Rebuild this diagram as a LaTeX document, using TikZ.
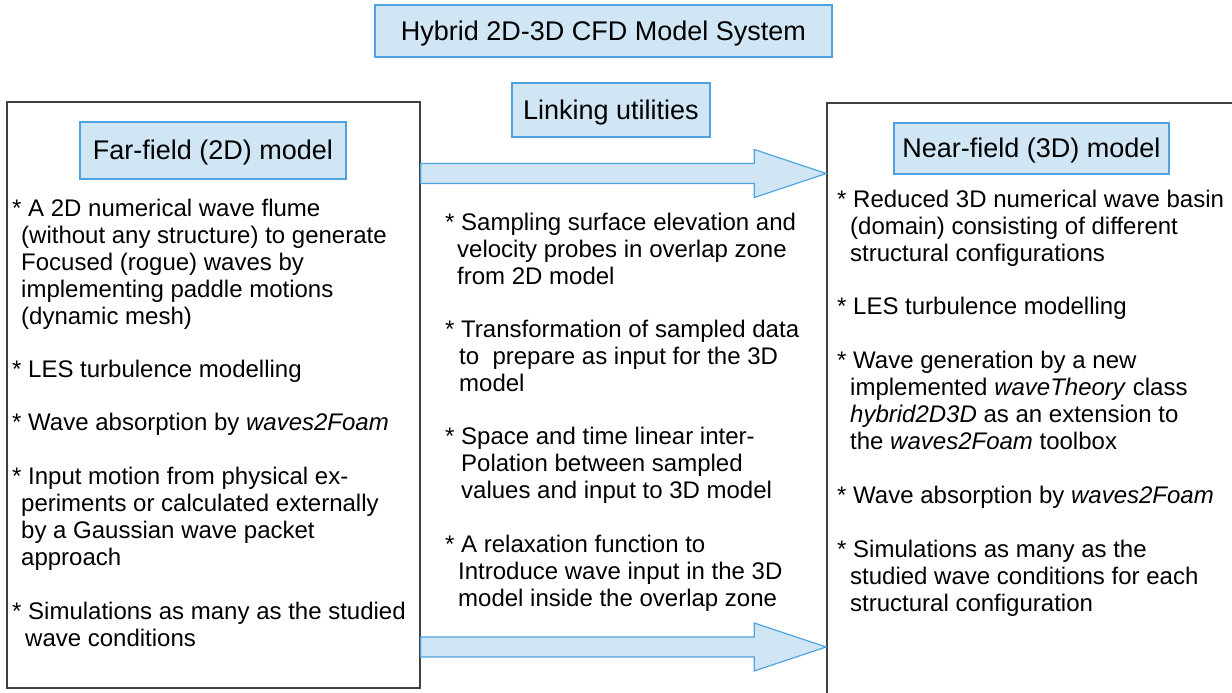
\documentclass[tikz,border=0pt]{standalone}
\usepackage{fontspec}
\setmainfont{Liberation Sans}
\usetikzlibrary{positioning, calc}
\definecolor{boxfill}{HTML}{D0E6F5}
\definecolor{boxline}{HTML}{4EA2DE}
\definecolor{frameline}{HTML}{404040}
\tikzset{
    bluebox/.style={rectangle, draw=boxline, fill=boxfill, line width=1.2pt, inner sep=0pt, text height=24.4pt, text depth=5.7pt, font=\fontsize{27}{32}\selectfont},
    framebox/.style={rectangle, draw=frameline, line width=1.4pt, inner sep=0pt},
    itemtext/.style={anchor=north west, align=left, inner sep=0pt, font=\fontsize{24}{27}\selectfont},
    flow/.style={draw=boxline, fill=boxfill, line width=1.2pt, line join=miter}
}
\newcommand{\ind}[1]{\hspace*{#1pt}}
% block arrow from node #1 to node #2 at height #3
\newcommand{\flowarrow}[3]{%
  \path (#1.east |- 0,#3) coordinate (fs) (#2.west |- 0,#3) coordinate (fe);
  \draw[flow] ($(fs)+(0,-10)$) -- ($(fe)+(-72,-10)$) -- ($(fe)+(-72,-24)$) -- (fe)
    -- ($(fe)+(-72,24)$) -- ($(fe)+(-72,10)$) -- ($(fs)+(0,10)$) -- cycle;
}

\begin{document}
\begin{tikzpicture}[x=1pt, y=-1pt]
\useasboundingbox (0,0) rectangle (1232,693);
\clip (0,0) rectangle (1232,693);
% title and linking utilities
  \node[bluebox, minimum width=457, minimum height=52] (title) at (603.5,31) {Hybrid 2D-3D CFD Model System};
  \node[bluebox, minimum width=198, minimum height=54] (link) at (611,110) {Linking utilities};
% the two models
  \node[framebox, minimum width=413, minimum height=586] (far) at (213.5,395) {};
  \node[framebox, minimum width=413, minimum height=597] (near) at (1033.5,401.5) {};
  \node[bluebox, minimum width=266, minimum height=57] (farhead) at (213,150.5) {Far-field (2D) model};
  \node[bluebox, minimum width=275, minimum height=51] (nearhead) at (1031.5,148.5) {Near-field (3D) model};
% arrows
  \flowarrow{far}{near}{173.5}
  \flowarrow{far}{near}{647}
% item lists
  \node[itemtext] (fartext) at (12,197.1) {\strut* A 2D numerical wave flume\\
    \ind{9}(without any structure) to generate\\
    \ind{9}Focused (rogue) waves by\\
    \ind{9}implementing paddle motions\\
    \ind{9}(dynamic mesh)\\[26pt]
    * LES turbulence modelling\\[26pt]
    * Wave absorption by \textit{waves2Foam}\\[27pt]
    * Input motion from physical ex-\\
    \ind{9}periments or calculated externally\\
    \ind{9}by a Gaussian wave packet\\
    \ind{9}approach\\[27pt]
    * Simulations as many as the studied\\
    \ind{13}wave conditions};
  \node[itemtext] (linktext) at (445,211.1) {\strut* Sampling surface elevation and\\
    \ind{12}velocity probes in overlap zone\\
    \ind{12}from 2D model\\[26pt]
    * Transformation of sampled data\\
    \ind{14}to~ prepare as input for the 3D\\
    \ind{14}model\\[26pt]
    * Space and time linear inter-\\
    \ind{16}Polation between sampled\\
    \ind{16}values and input to 3D model\\[27pt]
    * A relaxation function to\\
    \ind{13}Introduce wave input in the 3D\\
    \ind{13}model inside the overlap zone};
  \node[itemtext] (neartext) at (837,188.1) {\strut* Reduced 3D numerical wave basin\\
    \ind{13}(domain) consisting of different\\
    \ind{13}structural configurations\\[26pt]
    * LES turbulence modelling\\[27pt]
    * Wave generation by a new\\
    \ind{13}implemented \textit{waveTheory} class\\
    \ind{13}\textit{hybrid2D3D} as an extension to\\
    \ind{13}the \textit{waves2Foam} toolbox\\[27pt]
    * Wave absorption by \textit{waves2Foam}\\[27pt]
    * Simulations as many as the\\
    \ind{13}studied wave conditions for each\\
    \ind{13}structural configuration};
\end{tikzpicture}
\end{document}
